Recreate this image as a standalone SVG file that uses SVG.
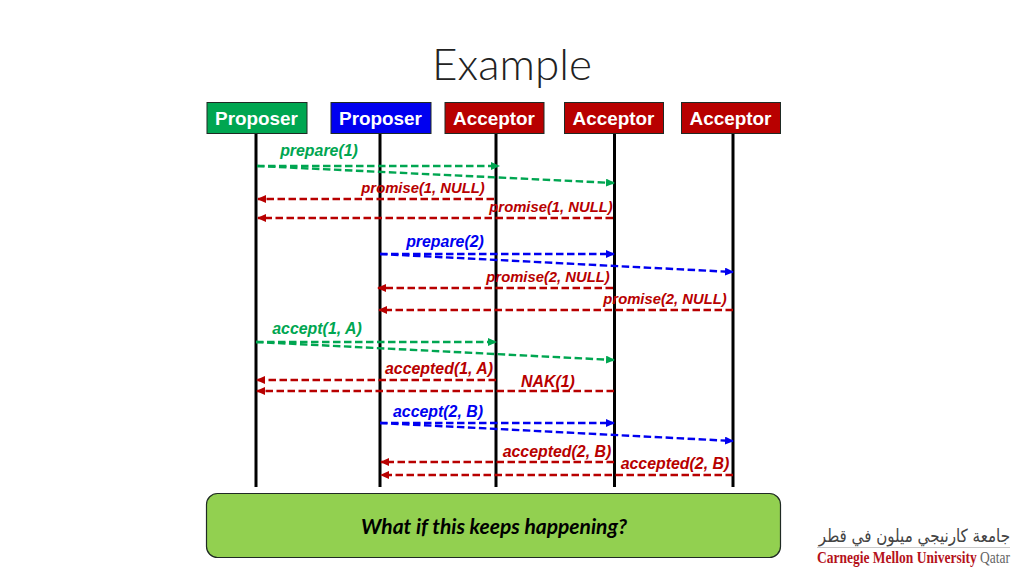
<svg xmlns="http://www.w3.org/2000/svg" width="1024" height="576" viewBox="0 0 1024 576">
<style>
.box{stroke:#1f2a24;stroke-width:1}
.hd{font:bold 18.900px "Liberation Sans",Arial,sans-serif;fill:#fff;text-anchor:middle}
.life{stroke:#000;stroke-width:3;fill:none}
.m{fill:none;stroke-width:2.4;stroke-dasharray:7.5 3.5}
.lb{font:italic bold 15.900px "Liberation Sans",Arial,sans-serif;text-anchor:middle}
.lp{font-size:14.800px}
.g{stroke:#00a651}.b{stroke:#0000f0}.r{stroke:#b80000}
.tg{fill:#00a651}.tb{fill:#0000f0}.tr{fill:#b80000}
</style>
<defs>
<marker id="ag" markerUnits="userSpaceOnUse" markerWidth="9" markerHeight="8" refX="8" refY="4" orient="auto"><path d="M0 0L9 4L0 8Z" fill="#00a651"/></marker>
<marker id="ab" markerUnits="userSpaceOnUse" markerWidth="9" markerHeight="8" refX="8" refY="4" orient="auto"><path d="M0 0L9 4L0 8Z" fill="#0000f0"/></marker>
<marker id="ar" markerUnits="userSpaceOnUse" markerWidth="9" markerHeight="8" refX="8" refY="4" orient="auto"><path d="M0 0L9 4L0 8Z" fill="#b80000"/></marker>
</defs>
<rect width="1024" height="576" fill="#fff"/>
<text x="512" y="80" font-family="Lato,'Open Sans',sans-serif" font-size="44" font-weight="300" fill="#222" text-anchor="middle">Example</text>
<g id="lifelines">
<path class="life" d="M256 134V487M380 134V487M496 134V487M614.500 134V487M733 134V487"/>
</g>
<g id="node-proposer-1"><rect class="box" x="207" y="102.500" width="100" height="31" fill="#00a651"/><text class="hd" x="256.500" y="125">Proposer</text></g>
<g id="node-proposer-2"><rect class="box" x="331" y="102.500" width="100" height="31" fill="#0000f0"/><text class="hd" x="380.500" y="125">Proposer</text></g>
<g id="node-acceptor-1"><rect class="box" x="445" y="102.500" width="99" height="31" fill="#b80000"/><text class="hd" x="494" y="125">Acceptor</text></g>
<g id="node-acceptor-2"><rect class="box" x="564.500" y="102.500" width="99" height="31" fill="#b80000"/><text class="hd" x="613.500" y="125">Acceptor</text></g>
<g id="node-acceptor-3"><rect class="box" x="681.500" y="102.500" width="99" height="31" fill="#b80000"/><text class="hd" x="730.500" y="125">Acceptor</text></g>
<g id="connectors">
<line class="m g" x1="257" y1="166" x2="499" y2="166" marker-end="url(#ag)"/>
<line class="m g" x1="257" y1="166" x2="614" y2="183" marker-end="url(#ag)"/>
<line class="m r" x1="494" y1="199" x2="258" y2="199" marker-end="url(#ar)"/>
<line class="m r" x1="613" y1="218" x2="258" y2="218" marker-end="url(#ar)"/>
<line class="m b" x1="380" y1="254" x2="614" y2="254" marker-end="url(#ab)"/>
<line class="m b" x1="380" y1="254" x2="733" y2="272" marker-end="url(#ab)"/>
<line class="m r" x1="613" y1="288" x2="378" y2="288" marker-end="url(#ar)"/>
<line class="m r" x1="733" y1="310" x2="379" y2="310" marker-end="url(#ar)"/>
<line class="m g" x1="256" y1="342" x2="496" y2="342" marker-end="url(#ag)"/>
<line class="m g" x1="256" y1="342" x2="614" y2="360" marker-end="url(#ag)"/>
<line class="m r" x1="496" y1="380" x2="257" y2="380" marker-end="url(#ar)"/>
<line class="m r" x1="614" y1="391" x2="257" y2="391" marker-end="url(#ar)"/>
<line class="m b" x1="380" y1="423" x2="614" y2="423" marker-end="url(#ab)"/>
<line class="m b" x1="380" y1="423" x2="733" y2="441" marker-end="url(#ab)"/>
<line class="m r" x1="614" y1="462" x2="381" y2="462" marker-end="url(#ar)"/>
<line class="m r" x1="733" y1="475" x2="381" y2="475" marker-end="url(#ar)"/>
</g>
<g id="labels">
<text class="lb tg" x="319" y="156">prepare(1)</text>
<text class="lb lp tr" x="423" y="193">promise(1, NULL)</text>
<text class="lb lp tr" x="551" y="212">promise(1, NULL)</text>
<text class="lb tb" x="445" y="247">prepare(2)</text>
<text class="lb lp tr" x="548" y="282">promise(2, NULL)</text>
<text class="lb lp tr" x="665" y="304">promise(2, NULL)</text>
<text class="lb tg" x="317" y="334">accept(1, A)</text>
<text class="lb tr" x="439" y="374">accepted(1, A)</text>
<text class="lb tr" x="548" y="387">NAK(1)</text>
<text class="lb tb" x="438" y="417">accept(2, B)</text>
<text class="lb tr" x="557" y="457">accepted(2, B)</text>
<text class="lb tr" x="675" y="469">accepted(2, B)</text>
</g>
<g id="node-callout">
<rect x="206.500" y="493.500" width="574" height="64" rx="11" fill="#92d050" stroke="#1f2a24" stroke-width="1.200"/>
<text x="494" y="534" font-family="Lato,'Open Sans',sans-serif" font-weight="bold" font-style="italic" font-size="21" fill="#000" text-anchor="middle">What if this keeps happening?</text>
</g>
<g id="logo">
<text transform="translate(1010 542) scale(.84 1)" x="0" y="0" font-family="'DejaVu Sans',sans-serif" font-size="18" fill="#444" text-anchor="start" direction="rtl">جامعة كارنيجي ميلون في قطر</text>
<line x1="817" y1="547.500" x2="1010" y2="547.500" stroke="#bbb" stroke-width="0.800"/>
<text x="817" y="563" font-family="'Liberation Serif',serif" font-size="17" textLength="193" lengthAdjust="spacingAndGlyphs"><tspan font-weight="bold" fill="#b5121b">Carnegie Mellon University</tspan><tspan fill="#666"> Qatar</tspan></text>
</g>
</svg>
